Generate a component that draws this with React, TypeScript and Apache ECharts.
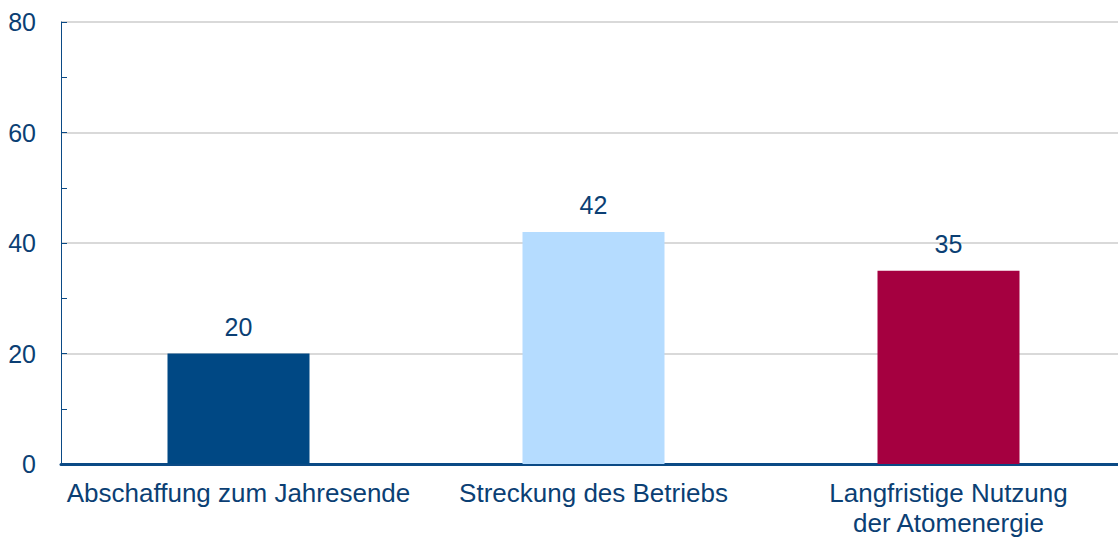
import React, { useEffect, useRef } from "react";
import * as echarts from "echarts";

const categories = [
  "Abschaffung zum Jahresende",
  "Streckung des Betriebs",
  "Langfristige Nutzung\nder Atomenergie",
];
const values = [20, 42, 35];
const barColors = ["#004884", "#b5dcff", "#a50040"];
const yTicks = [0, 20, 40, 60, 80];

const textColor = "#0b3f74";
const font = "Arial, 'Liberation Sans', sans-serif";

export default function App() {
  const ref = useRef<HTMLDivElement>(null);
  useEffect(() => {
    if (!ref.current) return;
    const chart = echarts.init(ref.current, null, { renderer: "svg" });
    chart.setOption({
      animation: false,
      grid: { left: 61, right: 0, top: 22, bottom: 76, containLabel: false },
      xAxis: {
        type: "category",
        data: categories,
        axisLine: { lineStyle: { color: "#0b4a85", width: 3 } },
        axisTick: { show: false },
        axisLabel: {
          color: textColor,
          fontSize: 26,
          fontFamily: font,
          margin: 14,
          lineHeight: 30,
          interval: 0,
        },
      },
      yAxis: {
        type: "value",
        min: yTicks[0],
        max: yTicks[yTicks.length - 1],
        interval: 20,
        axisLine: { show: true, lineStyle: { color: "#0b4a85", width: 1 } },
        axisTick: { show: true, inside: true, length: 6, lineStyle: { color: "#0b4a85" } },
        minorTick: { show: true, splitNumber: 2, length: 6, lineStyle: { color: "#0b4a85" } },
        splitLine: { show: true, lineStyle: { color: "#d9d9d9", width: 2 } },
        axisLabel: {
          color: textColor,
          fontSize: 25,
          fontFamily: font,
          margin: 25,
        },
      },
      series: [
        {
          type: "bar",
          data: values.map((v, i) => ({ value: v, itemStyle: { color: barColors[i] } })),
          barWidth: "40%",
          label: {
            show: true,
            position: "top",
            distance: 14,
            color: textColor,
            fontSize: 25,
            fontFamily: font,
          },
        },
      ],
    });
    return () => chart.dispose();
  }, []);
  return (
    <div style={{ position: "absolute", left: 0, top: 0, width: 1118, height: 540, overflow: "hidden" }}>
      <div ref={ref} style={{ width: 1126, height: 540 }} />
    </div>
  );
}
